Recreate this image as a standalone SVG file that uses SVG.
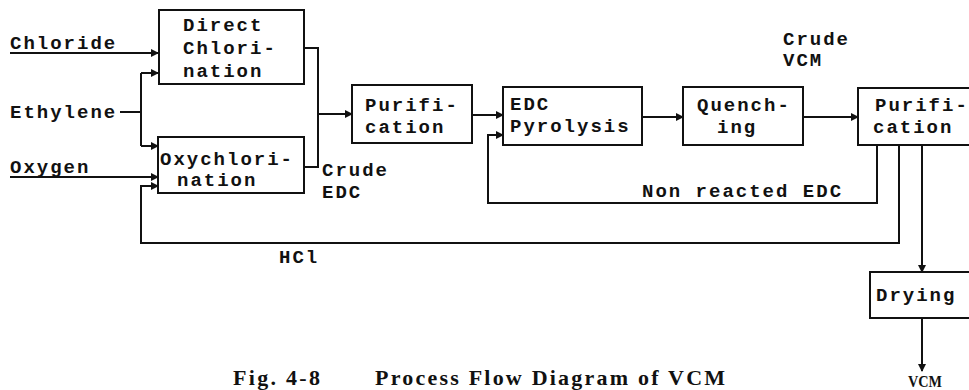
<svg xmlns="http://www.w3.org/2000/svg" width="969" height="390" viewBox="0 0 969 390">
<style>
.box{fill:#fff;stroke:#111;stroke-width:2}
.ln{fill:none;stroke:#111;stroke-width:2}
.t{font-family:"Liberation Mono","Courier New",monospace;font-size:19px;letter-spacing:2px;font-weight:bold;fill:#111}
.cap{font-family:"Liberation Serif","Times New Roman",serif;font-weight:bold;fill:#111}
</style>
<defs>
<marker id="ah" markerWidth="8" markerHeight="8" refX="7" refY="4" orient="auto" markerUnits="userSpaceOnUse">
<path d="M0,0 L8,4 L0,8 Z" fill="#111"/>
</marker>
</defs>
<rect width="969" height="390" fill="#fff"/>

<g id="connectors">
<path class="ln" d="M10,53 H158" marker-end="url(#ah)"/>
<path class="ln" d="M120,112 H141 M141,73 V146"/>
<path class="ln" d="M141,73 H158" marker-end="url(#ah)"/>
<path class="ln" d="M141,146 H158" marker-end="url(#ah)"/>
<path class="ln" d="M10,177 H158" marker-end="url(#ah)"/>
<path class="ln" d="M304,48 H318 V167 H304"/>
<path class="ln" d="M318,114 H352" marker-end="url(#ah)"/>
<path class="ln" d="M472,115 H503" marker-end="url(#ah)"/>
<path class="ln" d="M642,117 H683" marker-end="url(#ah)"/>
<path class="ln" d="M803,117 H858" marker-end="url(#ah)"/>
<path class="ln" d="M877,145 V203 H488 V135 H503" marker-end="url(#ah)"/>
<path class="ln" d="M899,145 V243 H141 V186 H158" marker-end="url(#ah)"/>
<path class="ln" d="M922,145 V272" marker-end="url(#ah)"/>
<path class="ln" d="M922,318 V371" marker-end="url(#ah)"/>
</g>

<g id="inputs">
<text class="t" x="10" y="49">Chloride</text>
<text class="t" x="10" y="118">Ethylene</text>
<text class="t" x="10" y="173">Oxygen</text>
</g>

<g id="direct-chlorination">
<rect class="box" x="159" y="10" width="145" height="74"/>
<text class="t" x="183" y="31">Direct</text>
<text class="t" x="183" y="54">Chlori-</text>
<text class="t" x="183" y="77">nation</text>
</g>

<g id="oxychlorination">
<rect class="box" x="158" y="137" width="146" height="56"/>
<text class="t" x="160" y="165">Oxychlori-</text>
<text class="t" x="177" y="186">nation</text>
</g>

<g id="crude-edc">
<text class="t" x="322" y="176">Crude</text>
<text class="t" x="322" y="198">EDC</text>
</g>

<g id="purification-1">
<rect class="box" x="352" y="85" width="120" height="58"/>
<text class="t" x="365" y="111">Purifi-</text>
<text class="t" x="365" y="133">cation</text>
</g>

<g id="edc-pyrolysis">
<rect class="box" x="503" y="87" width="139" height="58"/>
<text class="t" x="510" y="110">EDC</text>
<text class="t" x="510" y="132">Pyrolysis</text>
</g>

<g id="quenching">
<rect class="box" x="683" y="87" width="120" height="58"/>
<text class="t" x="697" y="111">Quench-</text>
<text class="t" x="717" y="133">ing</text>
</g>

<g id="crude-vcm">
<text class="t" x="783" y="45">Crude</text>
<text class="t" x="783" y="66">VCM</text>
</g>

<g id="purification-2">
<rect class="box" x="858" y="88" width="120" height="57"/>
<text class="t" x="875" y="111">Purifi-</text>
<text class="t" x="873" y="133">cation</text>
</g>

<g id="non-reacted-edc">
<text class="t" x="642" y="197">Non reacted EDC</text>
</g>

<g id="hcl">
<text class="t" x="279" y="263">HCl</text>
</g>

<g id="drying">
<rect class="box" x="870" y="272" width="108" height="46"/>
<text class="t" x="876" y="301">Drying</text>
</g>

<g id="vcm-out">
<text class="cap" x="908" y="387" font-size="16" textLength="34" lengthAdjust="spacingAndGlyphs">VCM</text>
</g>

<g id="caption">
<text class="cap" x="233" y="385" font-size="22" textLength="87" lengthAdjust="spacing">Fig. 4-8</text>
<text class="cap" x="375" y="385" font-size="22" textLength="350" lengthAdjust="spacing">Process Flow Diagram of VCM</text>
</g>
</svg>
